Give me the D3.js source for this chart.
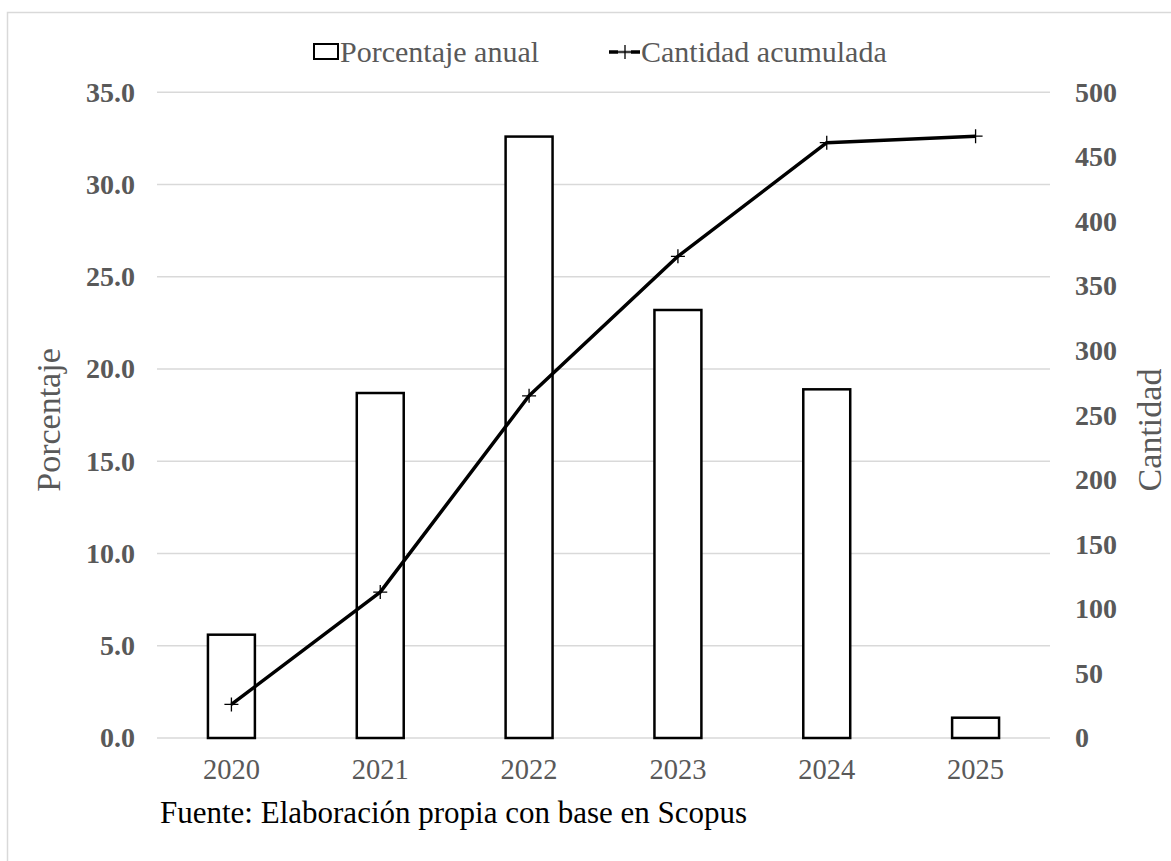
<!DOCTYPE html>
<html>
<head>
<meta charset="utf-8">
<script src="https://cdn.jsdelivr.net/npm/d3@7"></script>
<style>
  html, body { margin: 0; padding: 0; background: #fff; }
  svg { display: block; }
  svg text { font-family: "Liberation Serif", "Times New Roman", Times, "DejaVu Serif", serif; }
</style>
</head>
<body>
<svg id="chart" width="1171" height="861"></svg>
<script>
// Publications per year: annual share (%) and running total
const years = ["2020", "2021", "2022", "2023", "2024", "2025"];
const annualPercent = [5.6, 18.7, 32.6, 23.2, 18.9, 1.1];
const cumulativeCount = [26, 113, 265, 373, 461, 466];
const leftTicks = [0, 5, 10, 15, 20, 25, 30, 35];
const rightTicks = [0, 50, 100, 150, 200, 250, 300, 350, 400, 450, 500];

const svg = d3.select("#chart");
const W = 1171, H = 861;
const plot = { left: 157, right: 1050, top: 92.3, bottom: 738 };
const grey = "#595959";
const serif = '"Liberation Serif", "Times New Roman", Times, "DejaVu Serif", serif';

// outer chart border
svg.append("rect")
  .attr("x", 7.5).attr("y", 12.5)
  .attr("width", W).attr("height", H)
  .attr("fill", "#fff").attr("stroke", "#d9d9d9").attr("stroke-width", 1.5);

const x = d3.scaleBand().domain(years).range([plot.left, plot.right]).paddingInner(0).paddingOuter(0);
const yL = d3.scaleLinear().domain([0, 35]).range([plot.bottom, plot.top]);
const yR = d3.scaleLinear().domain([0, 500]).range([plot.bottom, plot.top]);

// horizontal gridlines at the left-axis ticks
svg.append("g").selectAll("line").data(leftTicks).join("line")
  .attr("x1", plot.left).attr("x2", plot.right)
  .attr("y1", d => yL(d)).attr("y2", d => yL(d))
  .attr("stroke", "#d9d9d9").attr("stroke-width", 1.5);

// left axis labels
const leftAxis = d3.axisLeft(yL).tickValues(leftTicks).tickFormat(d3.format(".1f")).tickSize(0).tickPadding(22);
const gL = svg.append("g").attr("transform", `translate(${plot.left},0)`).call(leftAxis)
  .attr("font-family", serif);
gL.select(".domain").remove();
gL.selectAll("text").attr("fill", grey).attr("font-size", 28).attr("font-weight", "bold");

// right axis labels
const rightAxis = d3.axisRight(yR).tickValues(rightTicks).tickFormat(d3.format("d")).tickSize(0).tickPadding(25);
const gR = svg.append("g").attr("transform", `translate(${plot.right},0)`).call(rightAxis)
  .attr("font-family", serif);
gR.select(".domain").remove();
gR.selectAll("text").attr("fill", grey).attr("font-size", 28).attr("font-weight", "bold");

// category axis
const bottomAxis = d3.axisBottom(x).tickSize(0).tickPadding(21);
const gB = svg.append("g").attr("transform", `translate(0,${plot.bottom})`).call(bottomAxis)
  .attr("font-family", serif);
gB.select(".domain").remove();
gB.selectAll("text").attr("fill", grey).attr("font-size", 28.5);

// bars: annual percentage
const barW = x.bandwidth() / 3.17;
svg.append("g").selectAll("rect").data(annualPercent).join("rect")
  .attr("x", (d, i) => x(years[i]) + (x.bandwidth() - barW) / 2)
  .attr("y", d => yL(d))
  .attr("width", barW)
  .attr("height", d => yL(0) - yL(d))
  .attr("fill", "#fff").attr("stroke", "#000").attr("stroke-width", 2.5);

// line: cumulative count
const cx = (d, i) => x(years[i]) + x.bandwidth() / 2;
const line = d3.line().x(cx).y(d => yR(d));
svg.append("path").datum(cumulativeCount)
  .attr("d", line).attr("fill", "none")
  .attr("stroke", "#000").attr("stroke-width", 3.5).attr("stroke-linejoin", "round");

// plus markers
const m = 7;
svg.append("g").selectAll("path").data(cumulativeCount).join("path")
  .attr("d", (d, i) => {
    const px = cx(d, i), py = yR(d);
    return `M${px - m},${py}H${px + m}M${px},${py - m}V${py + m}`;
  })
  .attr("stroke", "#000").attr("stroke-width", 1.3).attr("fill", "none");

// axis titles
svg.append("text")
  .attr("transform", "translate(60,420) rotate(-90)")
  .attr("text-anchor", "middle").attr("fill", grey).attr("font-size", 34)
  .text("Porcentaje");
svg.append("text")
  .attr("transform", "translate(1161,430) rotate(-90)")
  .attr("text-anchor", "middle").attr("fill", grey).attr("font-size", 34)
  .text("Cantidad");

// legend
const lg = svg.append("g");
lg.append("rect").attr("x", 314).attr("y", 44).attr("width", 24).attr("height", 15)
  .attr("fill", "#fff").attr("stroke", "#000").attr("stroke-width", 2);
lg.append("text").attr("x", 340).attr("y", 62).attr("fill", grey).attr("font-size", 30)
  .text("Porcentaje anual");
lg.append("line").attr("x1", 609).attr("x2", 640).attr("y1", 52).attr("y2", 52)
  .attr("stroke", "#000").attr("stroke-width", 3.5);
lg.append("line").attr("x1", 618).attr("x2", 631).attr("y1", 52).attr("y2", 52)
  .attr("stroke", "#fff").attr("stroke-width", 3.5);
lg.append("path").attr("d", "M618,52H632M625,45V59")
  .attr("stroke", "#000").attr("stroke-width", 1.3);
lg.append("text").attr("x", 641).attr("y", 62).attr("fill", grey).attr("font-size", 30)
  .text("Cantidad acumulada");

// source note
svg.append("text").attr("x", 160).attr("y", 823).attr("fill", "#000").attr("font-size", 31)
  .text("Fuente: Elaboración propia con base en Scopus");
</script>
</body>
</html>
